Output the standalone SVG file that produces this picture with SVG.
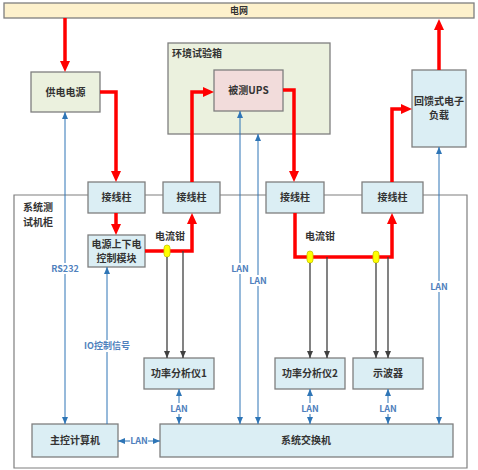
<svg xmlns="http://www.w3.org/2000/svg" width="478" height="470" viewBox="0 0 478 470">
<style>
.box{stroke:#7f7f7f;stroke-width:1.3}
.g{fill:#ebf1de}.b{fill:#dbeef4}.p{fill:#f2dcdb}.y{fill:#fdf1cc}
.t{font-family:"Noto Sans CJK SC","Liberation Sans",sans-serif;font-size:10px;font-weight:bold;fill:#333;text-anchor:middle}
.tl{text-anchor:start}
.bl{font-family:"Noto Sans CJK SC","Liberation Sans",sans-serif;font-size:9px;font-weight:bold;fill:#4f81bd;text-anchor:middle}
.red{fill:none;stroke:#ff0000;stroke-width:3.5;stroke-linejoin:miter}
.blue{fill:none;stroke:#2e75b6;stroke-width:1}
.gray{fill:none;stroke:#404040;stroke-width:1.3}
.frame{fill:none;stroke:#7f7f7f;stroke-width:1.2}
</style>
<defs>
<marker id="ar" markerUnits="userSpaceOnUse" markerWidth="12" markerHeight="12" viewBox="0 0 12 12" refX="10" refY="6" orient="auto">
<path d="M0,0.5 L10,6 L0,11.5 Z" fill="#ff0000"/>
</marker>
<marker id="ab" markerUnits="userSpaceOnUse" markerWidth="8" markerHeight="8" viewBox="0 0 8 8" refX="7" refY="4" orient="auto-start-reverse">
<path d="M0,1 L7,4 L0,7 Z" fill="#2e75b6"/>
</marker>
<marker id="ag" markerUnits="userSpaceOnUse" markerWidth="8" markerHeight="8" viewBox="0 0 8 8" refX="7" refY="4" orient="auto">
<path d="M0,1 L7,4 L0,7 Z" fill="#404040"/>
</marker>
</defs>
<rect width="478" height="470" fill="#fff"/>
<!-- cabinet frame -->
<g id="cabinet">
<path class="frame" d="M14,468 L14,195 L467,195 L467,468 Z"/>
<text class="t tl" x="23" y="211">系统测</text>
<text class="t tl" x="23" y="226">试机柜</text>
</g>
<g id="grid"><rect class="box y" x="4" y="3" width="470" height="15"/><text class="t" x="239" y="14" style="font-size:9px">电网</text></g>
<g id="envbox"><rect class="box g" x="168" y="43" width="162" height="91"/><text class="t tl" x="172" y="57">环境试验箱</text></g>
<g id="psu"><rect class="box g" x="31" y="72" width="69" height="40"/><text class="t" x="65.5" y="96">供电电源</text></g>
<g id="ups"><rect class="box p" x="214" y="70" width="69" height="41"/><text class="t" x="248.5" y="94">被测UPS</text></g>
<g id="load"><rect class="box b" x="412" y="70" width="54" height="77"/><text class="t" x="439" y="105">回馈式电子</text><text class="t" x="439" y="119">负载</text></g>
<g id="term1"><rect class="box b" x="88" y="182" width="57" height="31"/><text class="t" x="116.5" y="201">接线柱</text></g>
<g id="term2"><rect class="box b" x="163" y="182" width="57" height="31"/><text class="t" x="191.5" y="201">接线柱</text></g>
<g id="term3"><rect class="box b" x="266" y="182" width="58" height="31"/><text class="t" x="295" y="201">接线柱</text></g>
<g id="term4"><rect class="box b" x="362" y="182" width="61" height="31"/><text class="t" x="392.5" y="201">接线柱</text></g>
<g id="pwrctl"><rect class="box b" x="88" y="235" width="57" height="32"/><text class="t" x="116.5" y="248">电源上下电</text><text class="t" x="116.5" y="262">控制模块</text></g>
<g id="pa1"><rect class="box b" x="144" y="358" width="70" height="31"/><text class="t" x="179" y="377">功率分析仪1</text></g>
<g id="pa2"><rect class="box b" x="275" y="358" width="70" height="31"/><text class="t" x="310" y="377">功率分析仪2</text></g>
<g id="scope"><rect class="box b" x="353" y="358" width="70" height="31"/><text class="t" x="388" y="377">示波器</text></g>
<g id="pc"><rect class="box b" x="32" y="424" width="86" height="33"/><text class="t" x="75" y="444">主控计算机</text></g>
<g id="switch"><rect class="box b" x="160" y="424" width="293" height="33"/><text class="t" x="306" y="444">系统交换机</text></g>
<g id="connectors">
<!-- red power lines -->
<path class="red" d="M65,18 L65,62" />
<path d="M60,61 L70,61 L65,72 Z" fill="#ff0000"/>
<path class="red" d="M100,92 L116,92 L116,172"/>
<path d="M111,171 L121,171 L116,182 Z" fill="#ff0000"/>
<path class="red" d="M116,213 L116,225"/>
<path d="M111,224 L121,224 L116,235 Z" fill="#ff0000"/>
<path class="red" d="M145,251 L192,251 L192,223"/>
<path d="M187,224 L197,224 L192,213 Z" fill="#ff0000"/>
<path class="red" d="M192,182 L192,92 L204,92"/>
<path d="M203,87 L203,97 L214,92 Z" fill="#ff0000"/>
<path class="red" d="M283,90 L294,90 L294,172"/>
<path d="M289,171 L299,171 L294,182 Z" fill="#ff0000"/>
<path class="red" d="M295,213 L295,257 L392,257 L392,223"/>
<path d="M387,224 L397,224 L392,213 Z" fill="#ff0000"/>
<path class="red" d="M392,182 L392,109 L402,109"/>
<path d="M401,104 L401,114 L412,109 Z" fill="#ff0000"/>
<path class="red" d="M439,70 L439,29"/>
<path d="M434,30 L444,30 L439,19 Z" fill="#ff0000"/>
<!-- current clamps -->
<rect x="164" y="245" width="6" height="12" rx="3" fill="#ffff00" stroke="#c9c900" stroke-width="0.8"/>
<rect x="307" y="251" width="6" height="12" rx="3" fill="#ffff00" stroke="#c9c900" stroke-width="0.8"/>
<rect x="373" y="251" width="6" height="12" rx="3" fill="#ffff00" stroke="#c9c900" stroke-width="0.8"/>
<text class="t" x="170" y="240">电流钳</text>
<text class="t" x="320" y="240">电流钳</text>
<!-- gray measurement lines -->
<path class="gray" d="M167,257 L167,358" marker-end="url(#ag)"/>
<path class="gray" d="M183,251 L183,358" marker-end="url(#ag)"/>
<path class="gray" d="M310,263 L310,358" marker-end="url(#ag)"/>
<path class="gray" d="M327,257 L327,358" marker-end="url(#ag)"/>
<path class="gray" d="M376,263 L376,358" marker-end="url(#ag)"/>
<path class="gray" d="M388,257 L388,358" marker-end="url(#ag)"/>
<!-- blue signal lines -->
<path class="blue" d="M65,112 L65,424" marker-start="url(#ab)" marker-end="url(#ab)"/>
<rect x="50" y="263" width="30" height="11" fill="#fff"/>
<text class="bl" x="65" y="272">RS232</text>
<path class="blue" d="M107,424 L107,267" marker-end="url(#ab)"/>
<rect x="80" y="340" width="54" height="12" fill="#fff"/>
<text class="bl" x="107" y="349">IO控制信号</text>
<path class="blue" d="M240,111 L240,424" marker-start="url(#ab)" marker-end="url(#ab)"/>
<rect x="231" y="263" width="18" height="11" fill="#fff"/>
<text class="bl" x="240" y="272">LAN</text>
<path class="blue" d="M258,134 L258,424" marker-start="url(#ab)" marker-end="url(#ab)"/>
<rect x="249" y="275" width="18" height="11" fill="#fff"/>
<text class="bl" x="258" y="284">LAN</text>
<path class="blue" d="M439,147 L439,424" marker-start="url(#ab)" marker-end="url(#ab)"/>
<rect x="430" y="281" width="18" height="11" fill="#fff"/>
<text class="bl" x="439" y="290">LAN</text>
<path class="blue" d="M179,389 L179,424" marker-start="url(#ab)" marker-end="url(#ab)"/>
<rect x="170" y="403" width="18" height="11" fill="#fff"/>
<text class="bl" x="179" y="412">LAN</text>
<path class="blue" d="M310,389 L310,424" marker-start="url(#ab)" marker-end="url(#ab)"/>
<rect x="301" y="403" width="18" height="11" fill="#fff"/>
<text class="bl" x="310" y="412">LAN</text>
<path class="blue" d="M388,389 L388,424" marker-start="url(#ab)" marker-end="url(#ab)"/>
<rect x="379" y="403" width="18" height="11" fill="#fff"/>
<text class="bl" x="388" y="412">LAN</text>
<path class="blue" d="M118,441 L160,441" marker-start="url(#ab)" marker-end="url(#ab)"/>
<rect x="130" y="436" width="18" height="10" fill="#fff"/>
<text class="bl" x="139" y="444">LAN</text>
</g>
</svg>
